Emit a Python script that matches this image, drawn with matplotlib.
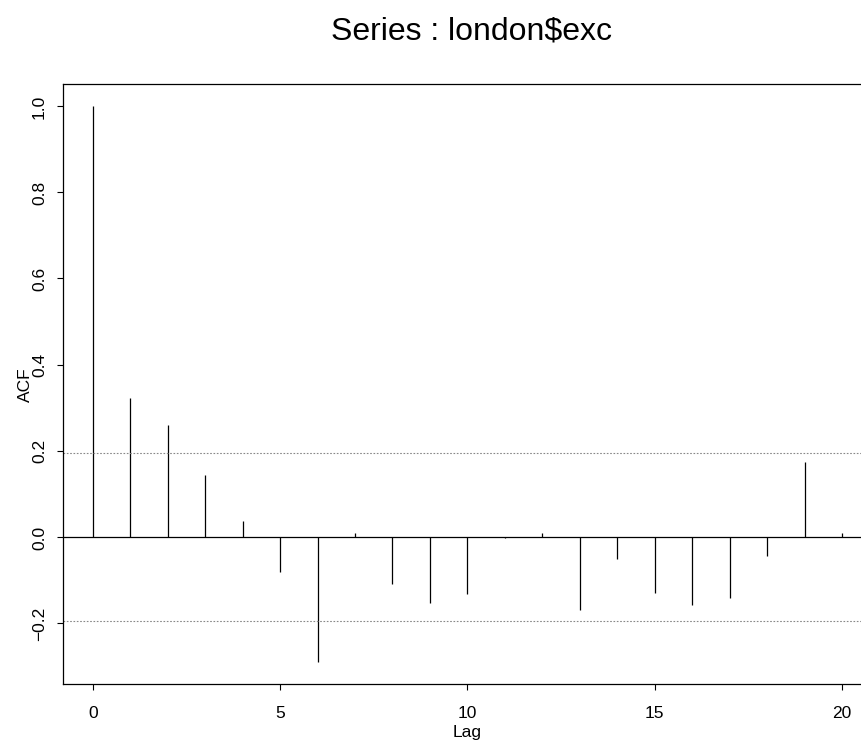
import matplotlib
matplotlib.use("Agg")
import matplotlib.pyplot as plt
import numpy as np

lags = list(range(0, 21))
acf = [1.0, 0.323, 0.261, 0.145, 0.038, -0.080, -0.290, 0.009, -0.108, -0.153,
       -0.132, -0.003, 0.010, -0.170, -0.051, -0.129, -0.157, -0.142, -0.045, 0.174, 0.010]
conf = 0.194
title = "Series : london$exc"
xticks = [0, 5, 10, 15, 20]
yticks = [-0.2, 0.0, 0.2, 0.4, 0.6, 0.8, 1.0]

plt.rcParams['font.family'] = ['Liberation Sans', 'DejaVu Sans']

W, H = 861, 740
fig = plt.figure(figsize=(8.6149, 7.4049), dpi=100)
ax_left, ax_right = 62.7, 861.0
ax = fig.add_axes([ax_left/W, 1-684.3/H, (ax_right-ax_left)/W, (684.3-84.3)/H])

ax.vlines(lags, 0, acf, color='black', linewidth=0.9)
ax.axhline(0, color='black', linewidth=0.9)
ax.axhline(conf, color='#888888', linewidth=0.8, linestyle=(0, (1.5, 1.5)))
ax.axhline(-conf, color='#888888', linewidth=0.8, linestyle=(0, (1.5, 1.5)))

# R-style 4% extension on the left; the right side of the frame is cropped by the canvas
x_lo = -0.8
px_per_lag = (841.7 - 92.7) / 20
ax.set_xlim(x_lo, x_lo + (ax_right - ax_left) / px_per_lag)
ax.set_ylim(-0.3416, 1.0516)
ax.set_xticks(xticks)
ax.set_xticklabels([str(t) for t in xticks])
ax.set_yticks(yticks)
ax.set_yticklabels([f"{t:.1f}".replace('-', '\u2212') for t in yticks], rotation=90, va='center')
ax.tick_params(axis='both', direction='out', length=4.3, width=0.8, labelsize=12.5, colors='black')
ax.tick_params(axis='x', pad=10.7)
ax.tick_params(axis='y', pad=7.1)
for s in ax.spines.values():
    s.set_linewidth(0.9)
    s.set_color('black')
ax.spines['right'].set_visible(False)

ax.set_xlabel("Lag", fontsize=12.5, labelpad=3)
ax.xaxis.label.set_x((467 - ax_left) / (ax_right - ax_left))
ax.set_ylabel("ACF", fontsize=12.5, labelpad=-1)

fig.text(471/W, 1-31/H, title, fontsize=23, ha='center', va='center')

fig.savefig("out.png", dpi=100)
